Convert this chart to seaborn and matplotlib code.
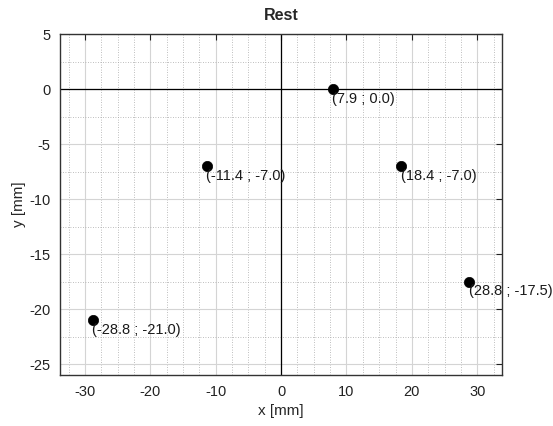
import numpy as np
import pandas as pd
import matplotlib
matplotlib.use("Agg")
import matplotlib.pyplot as plt
import seaborn as sns
from matplotlib.ticker import MultipleLocator

# Marker positions (mm)
x_vals = [7.9, -11.4, 18.4, 28.8, -28.8]
y_vals = [0.0, -7.0, -7.0, -17.5, -21.0]
x_ticks = [-30, -20, -10, 0, 10, 20, 30]
y_ticks = [5, 0, -5, -10, -15, -20, -25]

df = pd.DataFrame({"x": x_vals, "y": y_vals})

sns.set_style("white")
plt.rcParams["font.family"] = ["Liberation Sans", "DejaVu Sans"]
plt.rcParams["axes.unicode_minus"] = False

fig = plt.figure(figsize=(5.53, 4.26), dpi=100)
ax = fig.add_axes([0.1085, 0.1197, 0.7995, 0.8003])

margin = 5.0
ax.set_xlim(min(x_vals) - margin, max(x_vals) + margin)
ax.set_ylim(min(y_vals) - margin, max(y_vals) + margin)

ax.set_xticks(x_ticks)
ax.set_yticks(y_ticks)
ax.xaxis.set_minor_locator(MultipleLocator(2.5))
ax.yaxis.set_minor_locator(MultipleLocator(2.5))
ax.grid(which="major", color="#d4d4d4", linewidth=0.8, linestyle="-")
ax.grid(which="minor", color="#a8a8a8", linewidth=0.6, linestyle=(0, (1, 2)))
ax.set_axisbelow(True)

ax.axhline(0, color="black", linewidth=0.9, zorder=2)
ax.axvline(0, color="black", linewidth=0.9, zorder=2)

sns.scatterplot(data=df, x="x", y="y", ax=ax, color="black", s=55,
                edgecolor="black", linewidth=0.5, zorder=3, legend=False)

for xv, yv in zip(x_vals, y_vals):
    ax.annotate(f"({xv:.1f} ; {yv:.1f})", (xv, yv), xytext=(-0.5, -2),
                textcoords="offset points", ha="left", va="top",
                fontsize=10.5, color="#1a1a1a", zorder=4)

for side in ax.spines.values():
    side.set_color("#333333")
    side.set_linewidth(1.0)

ax.tick_params(which="major", direction="in", length=4, width=0.8,
               top=True, right=True, labelsize=10.5, colors="#222222",
               labelcolor="#222222", pad=7)
ax.tick_params(which="minor", length=0)

ax.set_title("Rest", fontsize=11.5, fontweight="bold", pad=10)
ax.set_xlabel("x [mm]", fontsize=11, labelpad=4)
ax.set_ylabel("y [mm]", fontsize=11, labelpad=2)

fig.savefig("out.png", dpi=100)
